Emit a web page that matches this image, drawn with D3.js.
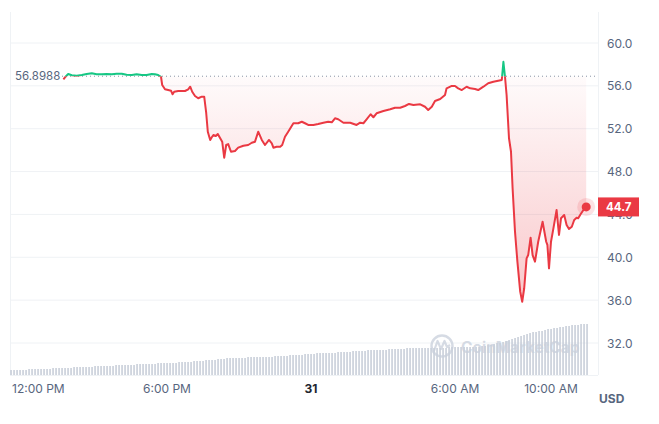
<!DOCTYPE html>
<html><head><meta charset="utf-8">
<script src="https://cdn.jsdelivr.net/npm/d3@7"></script>
<style>body{margin:0;background:#fff;}svg{display:block;font-family:Inter,"Noto Sans",sans-serif;}</style>
</head><body><svg id="c" width="659" height="424"></svg>
<script>
// minutes after 12:00 PM (Dec 30)
const priceMinutes = [101,105,113,122,134,147,159,172,184,197,209,222,234,247,259,272,284,297,309,322,330,338,345,348,355,363,370,374,378,388,405,413,418,423,430,438,447,453,458,462,468,472,476,482,487,493,498,503,508,513,520,530,538,551,563,572,580,588,597,605,615,622,626,634,643,648,655,663,676,688,697,705,713,726,738,751,763,772,780,788,801,818,834,843,851,859,869,876,884,901,918,930,943,955,965,976,993,1005,1013,1022,1030,1043,1055,1059,1072,1080,1088,1097,1109,1118,1130,1138,1151,1163,1176,1188,1197,1201,1205,1209,1215,1220,1224,1230,1236,1243,1248,1253,1259,1263,1269,1274,1280,1288,1299,1308,1311,1315,1320,1326,1334,1340,1345,1353,1359,1365,1372,1378,1384,1388,1394,1401,1408];
const priceValues = [56.61,56.80,57.11,56.99,56.95,57.01,57.11,57.17,57.08,57.08,57.11,57.08,57.13,57.13,57.04,57.01,57.08,57.01,57.01,57.11,57.08,57.01,56.85,56.08,55.68,55.61,55.55,55.21,55.45,55.52,55.52,55.68,55.92,55.45,55.05,54.84,54.99,54.99,53.47,51.72,50.95,51.20,51.41,51.32,51.51,51.11,50.79,49.29,50.48,50.57,49.85,49.92,50.23,50.41,50.48,50.69,50.79,51.72,50.95,50.48,50.95,50.64,50.23,50.32,50.32,50.48,51.25,51.72,52.51,52.51,52.65,52.51,52.35,52.35,52.44,52.56,52.65,52.60,52.97,52.88,52.56,52.56,52.35,52.56,52.51,52.88,53.35,53.07,53.44,53.65,53.81,53.96,53.96,54.12,54.31,54.21,54.28,54.05,53.75,54.05,54.59,54.77,55.15,55.77,55.99,55.99,55.77,55.61,55.92,55.77,55.71,55.61,55.92,56.24,56.39,56.48,56.55,58.25,56.85,55.15,51.11,49.85,46.44,42.39,39.59,36.79,35.85,37.11,39.90,40.21,41.83,40.21,39.59,41.45,43.32,41.45,41.15,38.97,41.45,42.70,44.41,42.08,43.64,43.95,43.01,42.64,42.85,43.48,43.69,43.64,44.01,44.41,44.70];
const baselinePrice = 56.8988;
const lastPrice = 44.7;
// volume, one bar every 7.5 minutes starting 11:30 AM
const volumeValues = [5,5,5,5,5,5,6,6,6,6,6,6,6,6,7,7,7,7,7,7,7,8,8,8,
8,8,8,8,9,9,9,9,9,9,9,10,10,10,10,10,10,10,11,11,11,11,11,11,11,12,12,12,
12,12,12,12,13,13,13,13,13,14,14,14,14,15,15,15,15,
16,16,16,17,17,
17,17,17,17,17,18,18,18,18,18,18,18,18,
18,19,19,19,19,19,20,20,20,20,20,21,21,21,21,22,22,22,22,
22,22,22,23,23,23,23,23,24,24,24,24,24,25,25,25,25,
25,25,25,26,26,26,26,26,26,27,27,27,27,
27,27,27,27,27,27,27,27,27,27,28,28,28,28,28,28,28,28,28,28,
28,29,29,30,30,31,32,
32,33,34,35,36,37,
38,39,40,41,
42,43,43,44,44,45,46,46,47,47,48,
48,49,49,50,50,50,51,51,51];
const yTicks = [32,36,40,44,48,52,56,60];
const xTickHours = [0,6,12,18,22]; // hours after 12:00 PM
const xTickLabels = ["12:00 PM","6:00 PM","31","6:00 AM","10:00 AM"];

const base = new Date(2023,11,30,12,0,0);
const t = m => new Date(base.getTime() + m*60000);

const svg = d3.select("#c");
const L=10, R=598, T=12, B=375;
const x = d3.scaleTime().domain([t(-32.5), t(1437.5)]).range([L,R]);
const y = d3.scaleLinear().domain([32,60]).range([343,43]);
const yv = d3.scaleLinear().domain([0,60]).range([B,B-60]);

const data = priceMinutes.map((m,i)=>({d:t(m), v:priceValues[i]}));
const yb = y(baselinePrice);

// grid
svg.append("g").selectAll("line").data(yTicks).join("line")
  .attr("x1",L).attr("x2",R).attr("y1",d=>y(d)).attr("y2",d=>y(d))
  .attr("stroke","#eff2f5").attr("stroke-width",1);
svg.append("line").attr("x1",L+0.5).attr("x2",L+0.5).attr("y1",T).attr("y2",B).attr("stroke","#eff2f5");
svg.append("line").attr("x1",R+0.5).attr("x2",R+0.5).attr("y1",T).attr("y2",B).attr("stroke","#eff2f5");
svg.append("line").attr("x1",L).attr("x2",R).attr("y1",B+0.5).attr("y2",B+0.5).attr("stroke","#eff2f5");

// volume bars
svg.append("g").selectAll("rect").data(volumeValues).join("rect")
  .attr("x",(d,i)=>x(t(-30+i*7.5))-0.6).attr("width",1.3)
  .attr("y",d=>yv(d)).attr("height",d=>B-yv(d)).attr("fill","#bcc4d1");

// watermark
const wm = svg.append("g").attr("opacity",0.75);
wm.append("circle").attr("cx",442).attr("cy",346).attr("r",10.5).attr("fill","none").attr("stroke","#c9d0dc").attr("stroke-width",2.4);
wm.append("path").attr("d","M434,351 L437.5,341 L441,349 L444.5,341 L447,347 L450,345").attr("fill","none").attr("stroke","#c9d0dc").attr("stroke-width",2.2).attr("stroke-linejoin","round");
wm.append("text").attr("x",461).attr("y",352.5).attr("font-size",15.5).attr("font-weight",700).attr("fill","#c9d0dc").text("CoinMarketCap");

// gradients
const defs = svg.append("defs");
const gr = defs.append("linearGradient").attr("id","gr").attr("gradientUnits","userSpaceOnUse").attr("x1",0).attr("x2",0).attr("y1",yb).attr("y2",y(d3.min(priceValues)));
gr.append("stop").attr("offset",0).attr("stop-color","#ea3943").attr("stop-opacity",0.02);
gr.append("stop").attr("offset",1).attr("stop-color","#ea3943").attr("stop-opacity",0.28);
const gg = defs.append("linearGradient").attr("id","gg").attr("gradientUnits","userSpaceOnUse").attr("x1",0).attr("x2",0).attr("y1",y(d3.max(priceValues))).attr("y2",yb);
gg.append("stop").attr("offset",0).attr("stop-color","#16c784").attr("stop-opacity",0.3);
gg.append("stop").attr("offset",1).attr("stop-color","#16c784").attr("stop-opacity",0.02);
defs.append("clipPath").attr("id","above").append("rect").attr("x",0).attr("y",0).attr("width",659).attr("height",yb);
defs.append("clipPath").attr("id","below").append("rect").attr("x",0).attr("y",yb).attr("width",659).attr("height",424-yb);

const area = d3.area().x(d=>x(d.d)).y0(yb).y1(d=>y(d.v));
const line = d3.line().x(d=>x(d.d)).y(d=>y(d.v));
svg.append("path").datum(data).attr("d",area).attr("fill","url(#gr)").attr("clip-path","url(#below)");
svg.append("path").datum(data).attr("d",area).attr("fill","url(#gg)").attr("clip-path","url(#above)");

// baseline dotted
svg.append("line").attr("x1",62).attr("x2",R).attr("y1",yb).attr("y2",yb)
  .attr("stroke","#8a93a6").attr("stroke-width",1).attr("stroke-dasharray","1,3");

svg.append("path").datum(data).attr("d",line).attr("fill","none").attr("stroke","#ea3943").attr("stroke-width",2).attr("stroke-linejoin","round").attr("clip-path","url(#below)");
svg.append("path").datum(data).attr("d",line).attr("fill","none").attr("stroke","#16c784").attr("stroke-width",2).attr("stroke-linejoin","round").attr("clip-path","url(#above)");

// baseline label
svg.append("text").attr("x",15).attr("y",yb+4).attr("font-size",11.5).attr("fill","#58667e").text(baselinePrice.toFixed(4));

// end dot
const last = data[data.length-1];
svg.append("circle").attr("cx",x(last.d)).attr("cy",y(last.v)).attr("r",9).attr("fill","#ea3943").attr("opacity",0.15);
svg.append("circle").attr("cx",x(last.d)).attr("cy",y(last.v)).attr("r",4.5).attr("fill","#ea3943");

// y axis labels
svg.append("g").selectAll("text").data(yTicks).join("text")
  .attr("x",607).attr("y",d=>y(d)+4.5).attr("font-size",12).attr("fill","#58667e").text(d=>d.toFixed(1));

// price tag (covers the 44.0 tick label as in the reference)
svg.append("rect").attr("x",598).attr("y",y(lastPrice)-9.5).attr("width",41).attr("height",19).attr("fill","#ea3943");
svg.append("text").attr("x",606).attr("y",y(lastPrice)+4).attr("font-size",11.5).attr("font-weight",700).attr("fill","#fff").text(lastPrice.toFixed(1));

// x axis labels
const xl = svg.append("g").selectAll("text").data(xTickHours).join("text")
  .attr("x",d=>x(t(d*60))).attr("y",393).attr("text-anchor","middle").attr("font-size",12)
  .attr("fill",(d,i)=>xTickLabels[i]==="31"?"#222531":"#58667e")
  .attr("font-weight",(d,i)=>xTickLabels[i]==="31"?700:400)
  .text((d,i)=>xTickLabels[i]);
xl.each(function(){const bb=this.getBBox(); if(bb.x<12){d3.select(this).attr("text-anchor","start").attr("x",12);}});

svg.append("text").attr("x",599).attr("y",403).attr("font-size",12).attr("font-weight",700).attr("fill","#58667e").text("USD");
</script></body></html>
